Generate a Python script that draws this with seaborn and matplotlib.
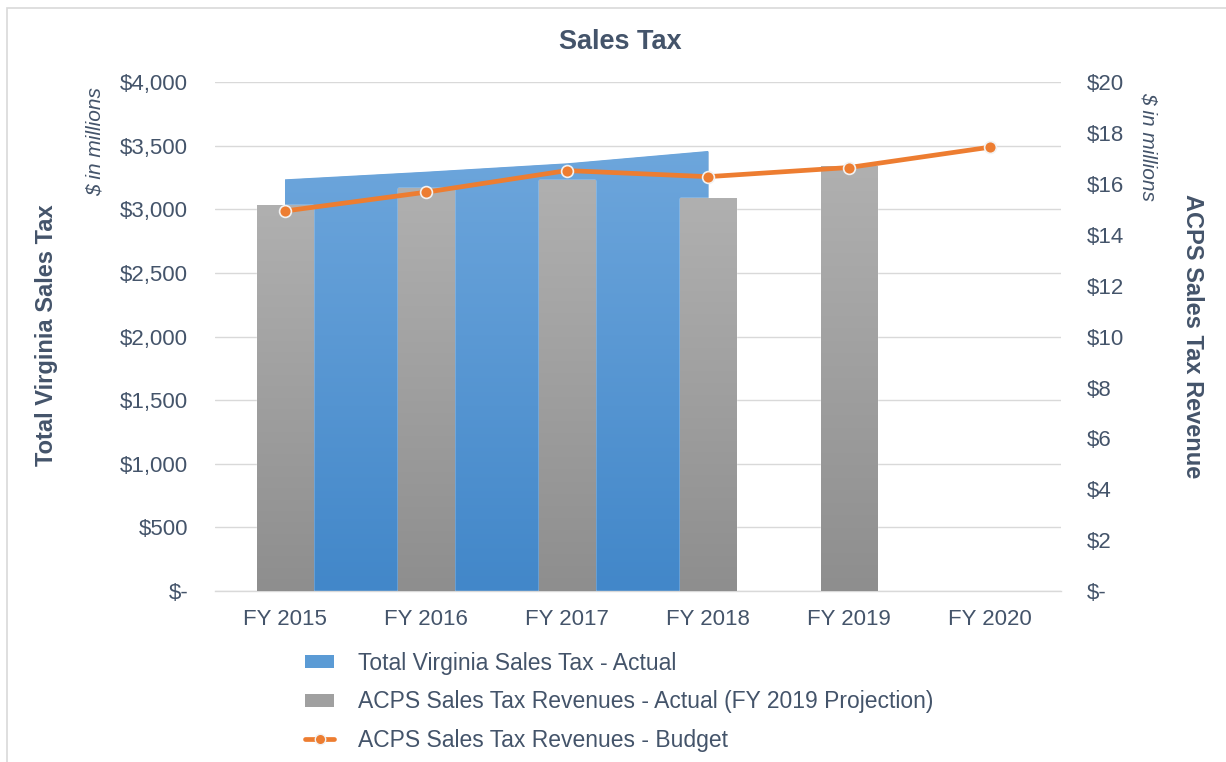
import numpy as np
import pandas as pd
import matplotlib
matplotlib.use("Agg")
import matplotlib.pyplot as plt
import seaborn as sns
from matplotlib.patches import Patch, Rectangle
from matplotlib.lines import Line2D
from matplotlib.colors import LinearSegmentedColormap
from matplotlib.ticker import FuncFormatter, MultipleLocator

# ---------------- data ----------------
years = ["FY 2015", "FY 2016", "FY 2017", "FY 2018", "FY 2019", "FY 2020"]
va_years = ["FY 2015", "FY 2016", "FY 2017", "FY 2018"]
va_total = [3237, 3297, 3363, 3460]                    # $ millions, left axis
acps_years = ["FY 2015", "FY 2016", "FY 2017", "FY 2018", "FY 2019"]
acps_actual = [15.18, 15.85, 16.16, 15.45, 16.71]     # $ millions, right axis
acps_budget = [14.94, 15.68, 16.53, 16.29, 16.65, 17.45]

series_names = ["Total Virginia Sales Tax - Actual",
                "ACPS Sales Tax Revenues - Actual (FY 2019 Projection)",
                "ACPS Sales Tax Revenues - Budget"]

TXT = "#44546A"
BLUE_TOP, BLUE_BOT = "#6DA6DC", "#4287C9"
GRAY_TOP, GRAY_BOT = "#B0B0B0", "#8E8E8E"
ORANGE = "#ED7D31"
GRID = "#D9D9D9"

sns.set_style("white")
plt.rcParams["font.family"] = ["Liberation Sans", "DejaVu Sans"]

W, H = 1226, 762
fig = plt.figure(figsize=(W / 100, H / 100), dpi=100)
L, R, T, B = 214.5, 1060.5, 82.3, 591.0
ax = fig.add_axes([L / W, 1 - B / H, (R - L) / W, (B - T) / H])
ax2 = ax.twinx()

# ------------- area (left axis) -------------
xpos = np.array([years.index(y) for y in va_years], dtype=float)
poly = ax.fill_between(xpos, np.array(va_total), 0, color=BLUE_BOT, lw=0, zorder=1)
cmap_b = LinearSegmentedColormap.from_list("b", [BLUE_BOT, BLUE_TOP])
grad = np.linspace(0, 1, 256).reshape(-1, 1)
img = ax.imshow(grad, cmap=cmap_b, origin="lower", aspect="auto",
                extent=[xpos.min(), xpos.max(), 0, max(va_total)], zorder=1.1)
img.set_clip_path(poly.get_paths()[0], transform=ax.transData)

# ------------- bars (right axis) -------------
df_bar = pd.DataFrame({"year": acps_years, "val": acps_actual})
sns.barplot(data=df_bar, x="year", y="val", order=years, color=GRAY_TOP,
            width=0.4, saturation=1, ax=ax2, zorder=2)
cmap_g = LinearSegmentedColormap.from_list("g", [GRAY_BOT, GRAY_TOP])
for p in list(ax2.patches):
    x0, y0 = p.get_x(), p.get_y()
    w, h = p.get_width(), p.get_height()
    if np.isnan(h) or h == 0:
        continue
    im = ax2.imshow(grad, cmap=cmap_g, origin="lower", aspect="auto",
                    extent=[x0, x0 + w, y0, y0 + h], zorder=2.1)
    im.set_clip_path(p)

# ------------- line (right axis) -------------
df_line = pd.DataFrame({"year": years, "val": acps_budget})
sns.pointplot(data=df_line, x="year", y="val", order=years, color=ORANGE,
              errorbar=None, ax=ax2, markers="o", linestyles="-",
              linewidth=3.4, markersize=8.5, markeredgecolor="#F2F2F2",
              markeredgewidth=1.2, zorder=5)

# ------------- axes styling -------------
ax.set_xlim(-0.5, 5.5)
ax2.set_xlim(-0.5, 5.5)
ax.set_ylim(0, 4000)
ax2.set_ylim(0, 20)
ax.yaxis.set_major_locator(MultipleLocator(500))
ax2.yaxis.set_major_locator(MultipleLocator(2))
ax.yaxis.set_major_formatter(FuncFormatter(lambda v, p: "$-" if v == 0 else f"${v:,.0f}"))
ax2.yaxis.set_major_formatter(FuncFormatter(lambda v, p: "$-" if v == 0 else f"${v:,.0f}"))
ax.set_xticks(range(len(years)))
ax.set_xticklabels(years)
ax.set_xlabel("")
ax.set_ylabel("")
ax2.set_xlabel("")
ax2.set_ylabel("")

ax.yaxis.grid(True, color=GRID, lw=1)
ax.xaxis.grid(False)
ax.set_axisbelow(True)
for a in (ax, ax2):
    for s in a.spines.values():
        s.set_visible(False)
ax.spines["bottom"].set_visible(True)
ax.spines["bottom"].set_color(GRID)
ax.spines["bottom"].set_linewidth(1)

ax.tick_params(axis="y", length=0, pad=19, labelsize=16, labelcolor=TXT)
ax.tick_params(axis="x", length=0, pad=13, labelsize=16, labelcolor=TXT)
ax2.tick_params(axis="y", length=0, pad=19, labelsize=16, labelcolor=TXT)

# ------------- texts -------------
fig.text(620 / W, 1 - 42 / H, "Sales Tax", ha="center", va="center",
         fontsize=19.5, fontweight="bold", color=TXT)
fig.text(47 / W, 1 - 335 / H, "Total Virginia Sales Tax", ha="center", va="center",
         rotation=90, fontsize=17, fontweight="bold", color=TXT)
fig.text(1192 / W, 1 - 336 / H, "ACPS Sales Tax Revenue", ha="center", va="center",
         rotation=270, fontsize=17, fontweight="bold", color=TXT)
fig.text(95 / W, 1 - 141 / H, "$ in millions", ha="center", va="center",
         rotation=90, fontsize=15, style="italic", color=TXT)
fig.text(1148 / W, 1 - 147 / H, "$ in millions", ha="center", va="center",
         rotation=270, fontsize=15, style="italic", color=TXT)

# ------------- legend -------------
handles = [Patch(facecolor="#5B9BD5", edgecolor="none"),
           Patch(facecolor="#A0A0A0", edgecolor="none"),
           Line2D([], [], color=ORANGE, lw=3.4, marker="o", markersize=7.5,
                  markeredgecolor="#F2F2F2", markeredgewidth=1)]
fig.legend(handles, series_names, loc="upper left",
           bbox_to_anchor=(305 / W, 1 - 652 / H), frameon=False,
           fontsize=16.5, labelcolor=TXT, handlelength=1.27, handleheight=0.5,
           handletextpad=1.05, labelspacing=0.67, borderaxespad=0, borderpad=0)

# ------------- chart border -------------
fig.add_artist(Rectangle((7 / W, -0.1), 1.2, 1.1 - 8 / H,
                         transform=fig.transFigure, fill=False,
                         edgecolor="#D9D9D9", lw=1.2, clip_on=False))

fig.savefig("out.png", dpi=100)
